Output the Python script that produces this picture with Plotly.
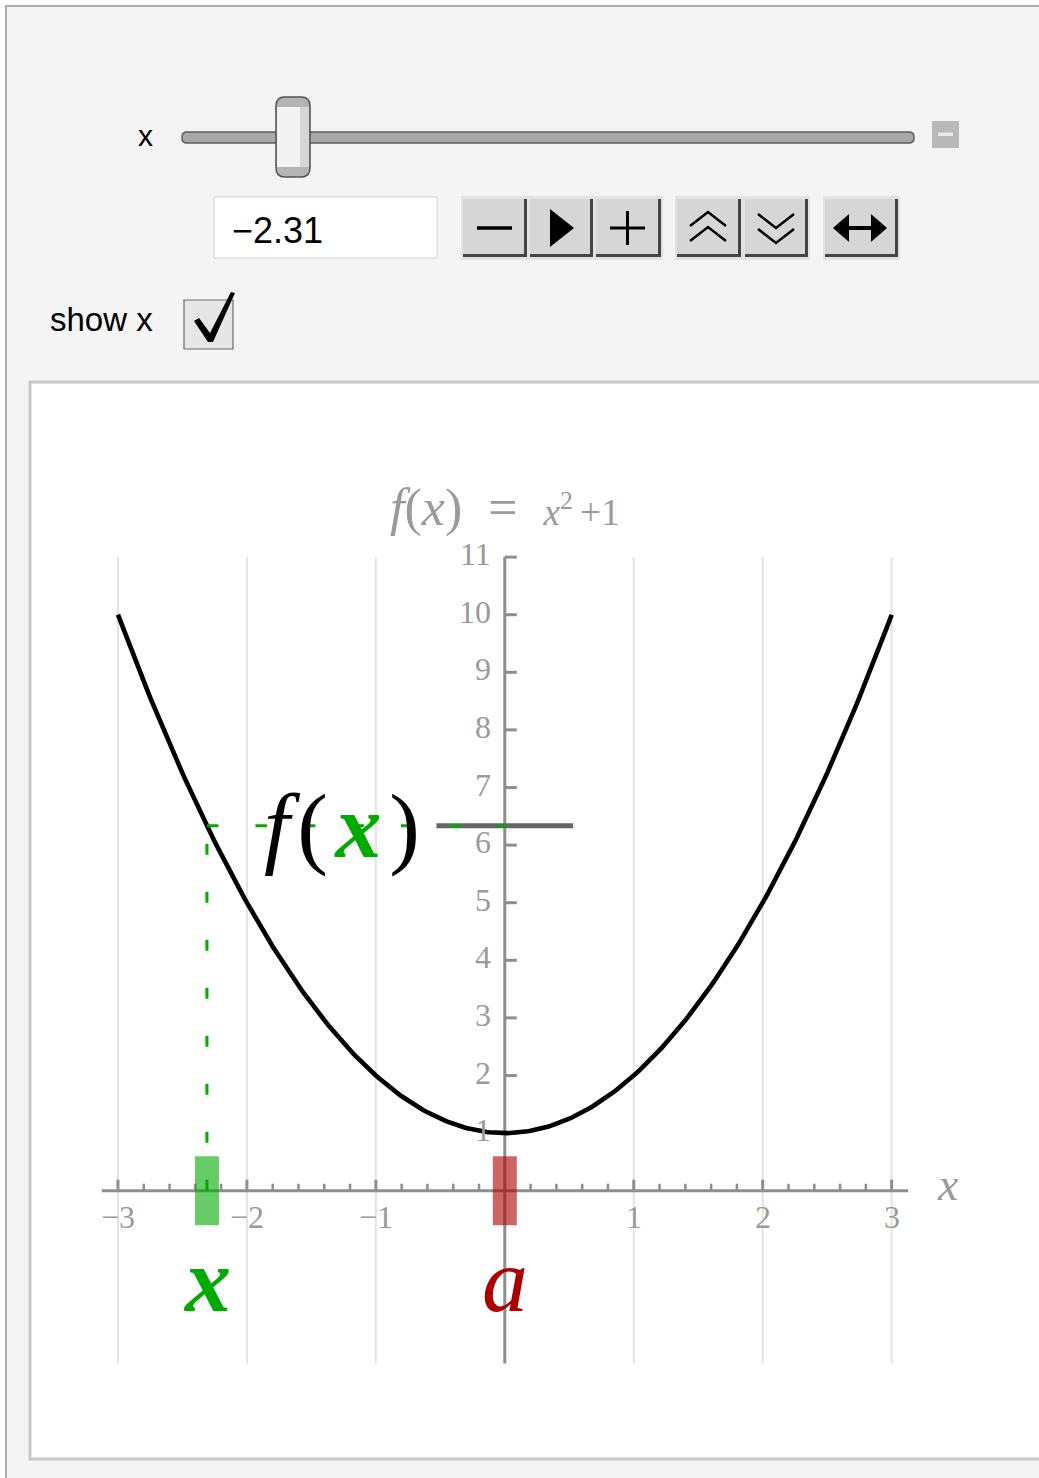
import numpy as np
import plotly.graph_objects as go

# ---------------- values ----------------
x_value = -2.31                 # current slider setting
a_value = 0.0                   # base point a
x_tick_vals = [-3, -2, -1, 1, 2, 3]
x_tick_text = ["\u22123", "\u22122", "\u22121", "1", "2", "3"]
y_tick_vals = [1, 2, 3, 4, 5, 6, 7, 8, 9, 10, 11]
y_tick_text = ["1", "2", "3", "4", "5", "6", "7", "8", "9", "10", "11"]
grid_x = [-3, -2, -1, 0, 1, 2, 3]
curve_span = [-3, 3]
frame_y = [-3, 11]


def f(x):
    return x ** 2 + 1


# ---------------- page geometry ----------------
W, H = 1039, 1478
SX, SY = 128.95, 57.6          # pixels per unit
OX, OY = 504.8, 1190.7         # pixel position of the origin
x_range = [(0 - OX) / SX, (W - OX) / SX]
y_range = [(OY - H) / SY, OY / SY]

SERIF = "Liberation Serif, Times New Roman, serif"
SANS = "Liberation Sans, Arial, Helvetica, sans-serif"
AXIS_GRAY = "#8e8e8e"
LABEL_GRAY = "#9a9a9a"
GREEN = "#00aa00"
DARK_RED = "#aa0000"


def P(px, py):
    return f"{px / W:.5f},{1 - py / H:.5f}"


def rect(x0, y0, x1, y1, fill, line=None, lw=0, layer="above"):
    return dict(type="rect", xref="paper", yref="paper",
                x0=x0 / W, x1=x1 / W, y0=1 - y0 / H, y1=1 - y1 / H,
                fillcolor=fill, line=dict(color=line or fill, width=lw), layer=layer)


def path(d, fill=None, line=None, lw=0, layer="above"):
    return dict(type="path", xref="paper", yref="paper", path=d,
                fillcolor=fill or "rgba(0,0,0,0)",
                line=dict(color=line or "rgba(0,0,0,0)", width=lw), layer=layer)


def rrect(x0, y0, x1, y1, r):
    return (f"M{P(x0 + r, y0)} L{P(x1 - r, y0)} Q{P(x1, y0)} {P(x1, y0 + r)} "
            f"L{P(x1, y1 - r)} Q{P(x1, y1)} {P(x1 - r, y1)} L{P(x0 + r, y1)} "
            f"Q{P(x0, y1)} {P(x0, y1 - r)} L{P(x0, y0 + r)} Q{P(x0, y0)} {P(x0 + r, y0)} Z")


def poly(pts, close=True):
    d = "M" + " L".join(P(a, b) for a, b in pts)
    return d + (" Z" if close else "")


# ---------------- control panel decoration ----------------
shapes = [
    rect(6, 6, 1060, 1500, "#f4f4f4", "#acacac", 2, layer="below"),
    rect(30, 382, 1060, 1459, "#ffffff", "#c8c8c8", 3, layer="below"),
    # slider track
    path(rrect(182, 132, 914, 143, 5), fill="#a9a9a9", line="#5c5c5c", lw=1.5),
    # slider thumb
    path(rrect(276, 97, 310, 177, 9), fill="#b4b4b4"),
    rect(277, 107, 309, 167, "#f3f3f3"),
    rect(300, 107, 309, 167, "#d6d6d6"),
    path(rrect(276, 97, 310, 177, 9), line="#505050", lw=1.5),
    # small toggle square
    rect(932, 121, 959, 148, "#b9b9b9"),
    rect(938, 132.5, 953, 136, "#e8e8e8"),
    # value field
    rect(214, 197, 437, 258, "#ffffff", "#d2d2d2", 1),
]

# buttons
buttons = [(463, 527), (530, 593), (596, 661), (677, 741), (745, 808), (825, 898)]
for gx0, gx1 in [(461, 663), (675, 810), (823, 900)]:
    shapes.append(rect(gx0, 196, gx1, 260, "#e2e2e2"))
for bx0, bx1 in buttons:
    shapes.append(rect(bx0, 199, bx1, 257, "#454545"))
    shapes.append(rect(bx0, 199, bx1 - 3, 254, "#d6d6d6"))

# button icons
shapes += [
    path(poly([(477, 228), (512, 228)], False), line="#000", lw=3.5),
    path(poly([(550, 209), (574, 228), (550, 247)]), fill="#000"),
    path(poly([(610, 228), (645, 228)], False), line="#000", lw=3),
    path(poly([(627.5, 211), (627.5, 245)], False), line="#000", lw=3),
    path(poly([(690, 226), (708, 212), (726, 226)], False), line="#000", lw=2.5),
    path(poly([(690, 241), (708, 227), (726, 241)], False), line="#000", lw=2.5),
    path(poly([(758, 214), (776, 228), (794, 214)], False), line="#000", lw=2.5),
    path(poly([(758, 229), (776, 243), (794, 229)], False), line="#000", lw=2.5),
    path(poly([(842, 228), (878, 228)], False), line="#000", lw=4),
    path(poly([(833, 228), (849, 214), (849, 242)]), fill="#000"),
    path(poly([(887, 228), (871, 214), (871, 242)]), fill="#000"),
]

# checkbox
shapes += [
    rect(184, 300, 233, 349, "#e6e6e6", "#6a6a6a", 1.2),
    path(poly([(194, 321), (199, 318), (210, 333), (231, 292), (235, 293),
               (213, 342), (208, 342)]), fill="#000"),
]

# ---------------- plot traces ----------------
fig = go.Figure()


def segs(pairs):
    xs, ys = [], []
    for (x0, y0), (x1, y1) in pairs:
        xs += [x0, x1, None]
        ys += [y0, y1, None]
    return xs, ys


def add_lines(pairs, color, width, dash=None):
    xs, ys = segs(pairs)
    fig.add_trace(go.Scatter(x=xs, y=ys, mode="lines",
                             line=dict(color=color, width=width, dash=dash),
                             hoverinfo="skip", showlegend=False))


# vertical grid lines
add_lines([((g, frame_y[0]), (g, frame_y[1])) for g in grid_x], "#e3e3e3", 2)

# axes
add_lines([((-3.125, 0), (3.128, 0))], AXIS_GRAY, 3)
add_lines([((a_value, frame_y[0]), (a_value, frame_y[1]))], AXIS_GRAY, 3)

# x ticks (major at integers, minor every 0.2)
minor = [round(v, 1) for v in np.arange(-3, 3.01, 0.2) if abs(v - round(v)) > 1e-6]
add_lines([((v, 0), (v, 11 / SY)) for v in x_tick_vals], AXIS_GRAY, 3)
add_lines([((v, 0), (v, 7 / SY)) for v in minor], AXIS_GRAY, 2.5)
# y ticks
add_lines([((0, v), (12 / SX, v)) for v in y_tick_vals], AXIS_GRAY, 3)

# the parabola
xc = np.linspace(curve_span[0], curve_span[1], 301)
fig.add_trace(go.Scatter(x=xc, y=f(xc), mode="lines",
                         line=dict(color="#000000", width=4.6),
                         hoverinfo="skip", showlegend=False))

# markers on the x axis
hw, hh = 0.093, 0.6
for cx, col in [(x_value, "rgba(0,170,0,0.6)"), (a_value, "rgba(170,0,0,0.6)")]:
    fig.add_trace(go.Scatter(x=[cx - hw, cx + hw, cx + hw, cx - hw, cx - hw],
                             y=[-hh, -hh, hh, hh, -hh], mode="lines", fill="toself",
                             fillcolor=col, line=dict(width=0, color=col),
                             hoverinfo="skip", showlegend=False))

fx = f(x_value)
# level of f(x) on the vertical axis
add_lines([((-0.53, fx), (0.53, fx))], "#666666", 5)
# dashed guides
add_lines([((x_value, 0), (x_value, fx))], GREEN, 3, dash="11px,37px")
add_lines([((x_value, fx), (a_value, fx))], GREEN, 3, dash="11.5px,37px")

# ---------------- annotations ----------------
ann = []
for v, t in zip(x_tick_vals, x_tick_text):
    ann.append(dict(x=v, y=0, xref="x", yref="y", text=t, showarrow=False,
                    yanchor="middle", xanchor="center", yshift=-26,
                    font=dict(family=SERIF, size=32, color=LABEL_GRAY)))
for v, t in zip(y_tick_vals, y_tick_text):
    ann.append(dict(x=0, y=v, xref="x", yref="y", text=t, showarrow=False,
                    yanchor="middle", xanchor="right", xshift=-12, yshift=3,
                    font=dict(family=SERIF, size=32, color=LABEL_GRAY)))

# axis label
ann.append(dict(x=3.44, y=0.1, xref="x", yref="y", text="<i>x</i>", showarrow=False,
                xanchor="center", yanchor="middle",
                font=dict(family=SERIF, size=46, color=LABEL_GRAY)))

# title
ann.append(dict(x=0.0, y=11.78, xref="x", yref="y", showarrow=False,
                xanchor="center", yanchor="middle", yshift=4,
                text="<i>f</i>(<i>x</i>)\u2002=\u2002<span style='font-size:37px'><i>x</i>"
                     "<sup>2</sup>\u2009+1</span>",
                font=dict(family=SERIF, size=52, color=LABEL_GRAY)))

# f(x) label beside the level line
ann.append(dict(x=-1.26, y=fx, xref="x", yref="y", showarrow=False, yshift=0,
                xanchor="center", yanchor="middle",
                text="<i>f</i>\u200a(\u200a<span style='color:#00aa00'><b><i>x</i></b></span>\u200a)",
                font=dict(family=SERIF, size=92, color="#000000")))

# point labels under the axis
ann.append(dict(x=x_value, y=-1.55, xref="x", yref="y", showarrow=False,
                xanchor="center", yanchor="middle",
                text="<b><i>x</i></b>", font=dict(family=SERIF, size=92, color=GREEN)))
ann.append(dict(x=a_value, y=-1.55, xref="x", yref="y", showarrow=False,
                xanchor="center", yanchor="middle",
                text="<i>a</i>", font=dict(family=SERIF, size=92, color=DARK_RED)))

# control labels
ann += [
    dict(x=145 / W, y=1 - 135 / H, xref="paper", yref="paper", text="x", showarrow=False,
         xanchor="center", yanchor="middle", font=dict(family=SANS, size=30, color="#000")),
    dict(x=48 / W, y=1 - 320 / H, xref="paper", yref="paper", text="show x", showarrow=False,
         xanchor="left", yanchor="middle", font=dict(family=SANS, size=33, color="#000")),
    dict(x=230 / W, y=1 - 230 / H, xref="paper", yref="paper", text="\u22122.31",
         showarrow=False, xanchor="left", yanchor="middle",
         font=dict(family=SANS, size=36, color="#000")),
]

fig.update_layout(
    width=W, height=H,
    margin=dict(l=0, r=0, t=0, b=0),
    paper_bgcolor="#ffffff",
    plot_bgcolor="rgba(0,0,0,0)",
    xaxis=dict(range=x_range, visible=False, fixedrange=True, domain=[0, 1]),
    yaxis=dict(range=y_range, visible=False, fixedrange=True, domain=[0, 1]),
    shapes=shapes,
    annotations=ann,
    showlegend=False,
)

fig.write_html("out.html", config={"displayModeBar": False})
